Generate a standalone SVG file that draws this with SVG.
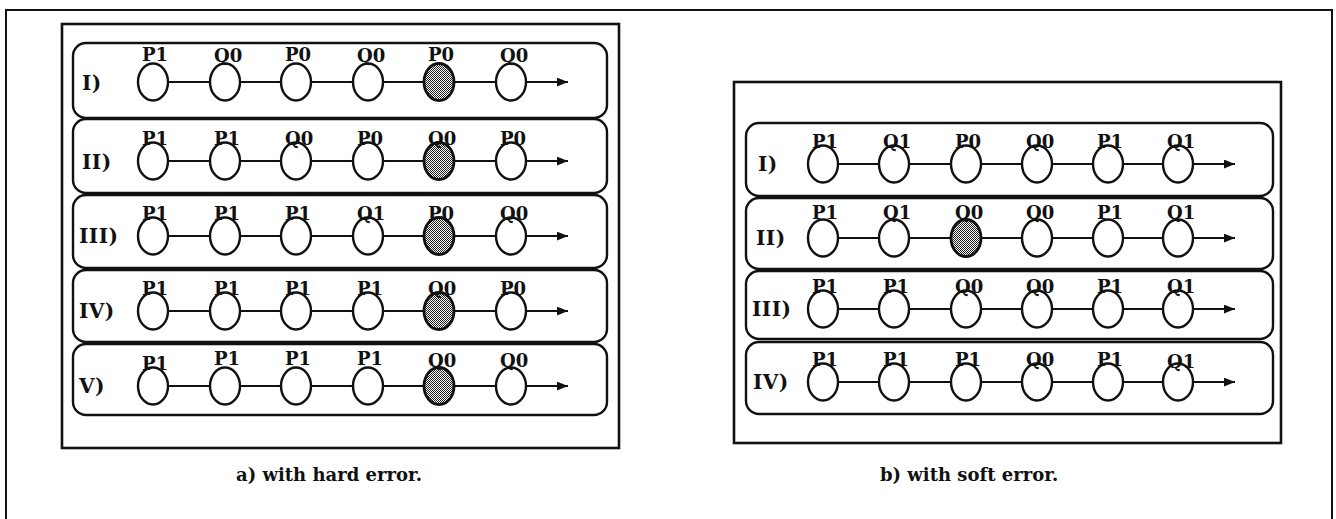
<svg xmlns="http://www.w3.org/2000/svg" width="1336" height="519" viewBox="0 0 1336 519">
<style>
.frame{fill:none;stroke:#111;stroke-width:2}
.panel{fill:none;stroke:#111;stroke-width:2.6}
.row{fill:none;stroke:#111;stroke-width:2.4}
.n{fill:#fff;stroke:#111;stroke-width:2.4}
.hit{fill:url(#dots);stroke:#111;stroke-width:2.8}
.lbl{font-family:"DejaVu Serif",serif;font-weight:bold;font-size:18px;fill:#111}
.rl{font-family:"DejaVu Serif",serif;font-weight:bold;font-size:20px;letter-spacing:0.5px;fill:#111}
.cap{font-family:"DejaVu Serif",serif;font-weight:bold;font-size:18px;fill:#111}
.e{stroke:#111;stroke-width:2;fill:none;marker-end:url(#ah)}
</style>
<defs>
<marker id="ah" viewBox="0 0 10 8" refX="10" refY="4" markerWidth="11" markerHeight="9" markerUnits="userSpaceOnUse" orient="auto">
<path d="M0,0 L10,4 L0,8 z" fill="#111"/>
</marker>
<pattern id="dots" width="2" height="2" patternUnits="userSpaceOnUse">
<rect width="2" height="2" fill="#fff"/>
<rect width="1" height="1" fill="#222"/>
<rect x="1" y="1" width="1" height="1" fill="#222"/>
</pattern>
</defs>
<rect width="1336" height="519" fill="#fff"/>
<rect class="frame" x="6" y="10" width="1326" height="530"/>
<g id="panel-a">
<rect class="panel" x="62" y="24" width="557" height="424"/>
<rect class="row" x="73" y="43" width="534" height="75" rx="13"/>
<rect class="row" x="73" y="119" width="534" height="74" rx="13"/>
<rect class="row" x="73" y="195" width="534" height="73" rx="13"/>
<rect class="row" x="73" y="270" width="534" height="72" rx="13"/>
<rect class="row" x="73" y="344" width="534" height="71" rx="13"/>
<text class="rl" x="82" y="90">I)</text>
<text class="rl" x="82" y="169">II)</text>
<text class="rl" x="79" y="243">III)</text>
<text class="rl" x="79" y="318">IV)</text>
<text class="rl" x="79" y="393">V)</text>
</g>
<g id="panel-b">
<rect class="panel" x="734" y="82" width="547" height="361"/>
<rect class="row" x="746" y="123" width="527" height="73" rx="13"/>
<rect class="row" x="746" y="198" width="527" height="71" rx="13"/>
<rect class="row" x="746" y="271" width="527" height="68" rx="13"/>
<rect class="row" x="746" y="342" width="527" height="72" rx="13"/>
<text class="rl" x="758" y="171">I)</text>
<text class="rl" x="756" y="245">II)</text>
<text class="rl" x="752" y="316">III)</text>
<text class="rl" x="753" y="389">IV)</text>
</g>
<g id="a1-1"><ellipse class="n" cx="153" cy="82" rx="15" ry="18.5"/><text class="lbl" x="142" y="61">P1</text></g>
<g id="a1-2"><ellipse class="n" cx="225" cy="82" rx="15" ry="18.5"/><text class="lbl" x="214" y="62">Q0</text></g>
<g id="a1-3"><ellipse class="n" cx="296" cy="82" rx="15" ry="18.5"/><text class="lbl" x="285" y="61">P0</text></g>
<g id="a1-4"><ellipse class="n" cx="368" cy="82" rx="15" ry="18.5"/><text class="lbl" x="357" y="62">Q0</text></g>
<g id="a1-5"><ellipse class="hit" cx="439" cy="82" rx="15" ry="18.5"/><text class="lbl" x="428" y="61">P0</text></g>
<g id="a1-6"><ellipse class="n" cx="511" cy="82" rx="15" ry="18.5"/><text class="lbl" x="500" y="62">Q0</text></g>
<g id="a2-1"><ellipse class="n" cx="153" cy="161" rx="15" ry="18.5"/><text class="lbl" x="142" y="145">P1</text></g>
<g id="a2-2"><ellipse class="n" cx="225" cy="161" rx="15" ry="18.5"/><text class="lbl" x="214" y="145">P1</text></g>
<g id="a2-3"><ellipse class="n" cx="296" cy="161" rx="15" ry="18.5"/><text class="lbl" x="285" y="145">Q0</text></g>
<g id="a2-4"><ellipse class="n" cx="368" cy="161" rx="15" ry="18.5"/><text class="lbl" x="357" y="145">P0</text></g>
<g id="a2-5"><ellipse class="hit" cx="439" cy="161" rx="15" ry="18.5"/><text class="lbl" x="428" y="145">Q0</text></g>
<g id="a2-6"><ellipse class="n" cx="511" cy="161" rx="15" ry="18.5"/><text class="lbl" x="500" y="145">P0</text></g>
<g id="a3-1"><ellipse class="n" cx="153" cy="236" rx="15" ry="18.5"/><text class="lbl" x="142" y="220">P1</text></g>
<g id="a3-2"><ellipse class="n" cx="225" cy="236" rx="15" ry="18.5"/><text class="lbl" x="214" y="220">P1</text></g>
<g id="a3-3"><ellipse class="n" cx="296" cy="236" rx="15" ry="18.5"/><text class="lbl" x="285" y="220">P1</text></g>
<g id="a3-4"><ellipse class="n" cx="368" cy="236" rx="15" ry="18.5"/><text class="lbl" x="357" y="220">Q1</text></g>
<g id="a3-5"><ellipse class="hit" cx="439" cy="236" rx="15" ry="18.5"/><text class="lbl" x="428" y="220">P0</text></g>
<g id="a3-6"><ellipse class="n" cx="511" cy="236" rx="15" ry="18.5"/><text class="lbl" x="500" y="220">Q0</text></g>
<g id="a4-1"><ellipse class="n" cx="153" cy="311" rx="15" ry="18.5"/><text class="lbl" x="142" y="295">P1</text></g>
<g id="a4-2"><ellipse class="n" cx="225" cy="311" rx="15" ry="18.5"/><text class="lbl" x="214" y="295">P1</text></g>
<g id="a4-3"><ellipse class="n" cx="296" cy="311" rx="15" ry="18.5"/><text class="lbl" x="285" y="295">P1</text></g>
<g id="a4-4"><ellipse class="n" cx="368" cy="311" rx="15" ry="18.5"/><text class="lbl" x="357" y="295">P1</text></g>
<g id="a4-5"><ellipse class="hit" cx="439" cy="311" rx="15" ry="18.5"/><text class="lbl" x="428" y="295">Q0</text></g>
<g id="a4-6"><ellipse class="n" cx="511" cy="311" rx="15" ry="18.5"/><text class="lbl" x="500" y="295">P0</text></g>
<g id="a5-1"><ellipse class="n" cx="153" cy="386" rx="15" ry="18.5"/><text class="lbl" x="142" y="370">P1</text></g>
<g id="a5-2"><ellipse class="n" cx="225" cy="386" rx="15" ry="18.5"/><text class="lbl" x="214" y="365">P1</text></g>
<g id="a5-3"><ellipse class="n" cx="296" cy="386" rx="15" ry="18.5"/><text class="lbl" x="285" y="365">P1</text></g>
<g id="a5-4"><ellipse class="n" cx="368" cy="386" rx="15" ry="18.5"/><text class="lbl" x="357" y="365">P1</text></g>
<g id="a5-5"><ellipse class="hit" cx="439" cy="386" rx="15" ry="18.5"/><text class="lbl" x="428" y="367">Q0</text></g>
<g id="a5-6"><ellipse class="n" cx="511" cy="386" rx="15" ry="18.5"/><text class="lbl" x="500" y="367">Q0</text></g>
<g id="b1-1"><ellipse class="n" cx="823" cy="164" rx="15" ry="18.5"/><text class="lbl" x="812" y="148">P1</text></g>
<g id="b1-2"><ellipse class="n" cx="894" cy="164" rx="15" ry="18.5"/><text class="lbl" x="883" y="148">Q1</text></g>
<g id="b1-3"><ellipse class="n" cx="966" cy="164" rx="15" ry="18.5"/><text class="lbl" x="955" y="148">P0</text></g>
<g id="b1-4"><ellipse class="n" cx="1037" cy="164" rx="15" ry="18.5"/><text class="lbl" x="1026" y="148">Q0</text></g>
<g id="b1-5"><ellipse class="n" cx="1108" cy="164" rx="15" ry="18.5"/><text class="lbl" x="1097" y="148">P1</text></g>
<g id="b1-6"><ellipse class="n" cx="1178" cy="164" rx="15" ry="18.5"/><text class="lbl" x="1167" y="148">Q1</text></g>
<g id="b2-1"><ellipse class="n" cx="823" cy="238" rx="15" ry="18.5"/><text class="lbl" x="812" y="219">P1</text></g>
<g id="b2-2"><ellipse class="n" cx="894" cy="238" rx="15" ry="18.5"/><text class="lbl" x="883" y="219">Q1</text></g>
<g id="b2-3"><ellipse class="hit" cx="966" cy="238" rx="15" ry="18.5"/><text class="lbl" x="955" y="219">Q0</text></g>
<g id="b2-4"><ellipse class="n" cx="1037" cy="238" rx="15" ry="18.5"/><text class="lbl" x="1026" y="219">Q0</text></g>
<g id="b2-5"><ellipse class="n" cx="1108" cy="238" rx="15" ry="18.5"/><text class="lbl" x="1097" y="219">P1</text></g>
<g id="b2-6"><ellipse class="n" cx="1178" cy="238" rx="15" ry="18.5"/><text class="lbl" x="1167" y="219">Q1</text></g>
<g id="b3-1"><ellipse class="n" cx="823" cy="309" rx="15" ry="18.5"/><text class="lbl" x="812" y="293">P1</text></g>
<g id="b3-2"><ellipse class="n" cx="894" cy="309" rx="15" ry="18.5"/><text class="lbl" x="883" y="293">P1</text></g>
<g id="b3-3"><ellipse class="n" cx="966" cy="309" rx="15" ry="18.5"/><text class="lbl" x="955" y="293">Q0</text></g>
<g id="b3-4"><ellipse class="n" cx="1037" cy="309" rx="15" ry="18.5"/><text class="lbl" x="1026" y="293">Q0</text></g>
<g id="b3-5"><ellipse class="n" cx="1108" cy="309" rx="15" ry="18.5"/><text class="lbl" x="1097" y="293">P1</text></g>
<g id="b3-6"><ellipse class="n" cx="1178" cy="309" rx="15" ry="18.5"/><text class="lbl" x="1167" y="293">Q1</text></g>
<g id="b4-1"><ellipse class="n" cx="823" cy="382" rx="15" ry="18.5"/><text class="lbl" x="812" y="366">P1</text></g>
<g id="b4-2"><ellipse class="n" cx="894" cy="382" rx="15" ry="18.5"/><text class="lbl" x="883" y="366">P1</text></g>
<g id="b4-3"><ellipse class="n" cx="966" cy="382" rx="15" ry="18.5"/><text class="lbl" x="955" y="366">P1</text></g>
<g id="b4-4"><ellipse class="n" cx="1037" cy="382" rx="15" ry="18.5"/><text class="lbl" x="1026" y="366">Q0</text></g>
<g id="b4-5"><ellipse class="n" cx="1108" cy="382" rx="15" ry="18.5"/><text class="lbl" x="1097" y="366">P1</text></g>
<g id="b4-6"><ellipse class="n" cx="1178" cy="382" rx="15" ry="18.5"/><text class="lbl" x="1167" y="368">Q1</text></g>
<g id="connectors">
<path class="e" d="M168,82H210 M240,82H281 M311,82H353 M383,82H424 M454,82H496 M526,82H568"/>
<path class="e" d="M168,161H210 M240,161H281 M311,161H353 M383,161H424 M454,161H496 M526,161H568"/>
<path class="e" d="M168,236H210 M240,236H281 M311,236H353 M383,236H424 M454,236H496 M526,236H568"/>
<path class="e" d="M168,311H210 M240,311H281 M311,311H353 M383,311H424 M454,311H496 M526,311H568"/>
<path class="e" d="M168,386H210 M240,386H281 M311,386H353 M383,386H424 M454,386H496 M526,386H568"/>
<path class="e" d="M838,164H879 M909,164H951 M981,164H1022 M1052,164H1093 M1123,164H1163 M1193,164H1235"/>
<path class="e" d="M838,238H879 M909,238H951 M981,238H1022 M1052,238H1093 M1123,238H1163 M1193,238H1235"/>
<path class="e" d="M838,309H879 M909,309H951 M981,309H1022 M1052,309H1093 M1123,309H1163 M1193,309H1235"/>
<path class="e" d="M838,382H879 M909,382H951 M981,382H1022 M1052,382H1093 M1123,382H1163 M1193,382H1235"/>
</g>
<text class="cap" x="236" y="481">a) with hard error.</text>
<text class="cap" x="880" y="481">b) with soft error.</text>
</svg>
